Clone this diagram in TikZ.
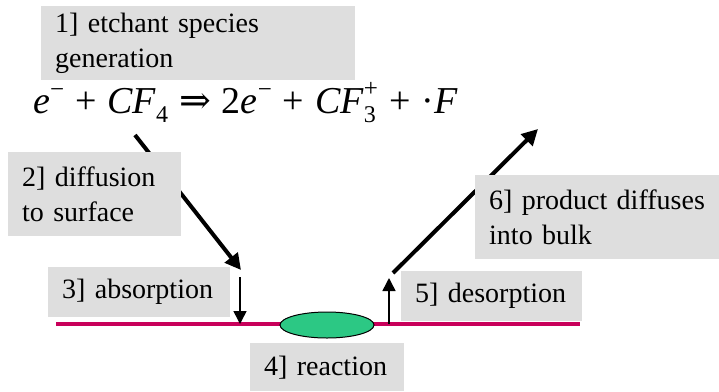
\documentclass[tikz,border=0pt]{standalone}
\usepackage{fontspec}
\setmainfont{Liberation Serif}
\newfontfamily\arrowfont{DejaVu Serif}
\usetikzlibrary{arrows.meta,shapes.geometric}
\definecolor{boxgray}{HTML}{DEDEDE}
\definecolor{surf}{HTML}{C8005A}
\definecolor{blob}{HTML}{2CC884}
\newcommand{\equp}[2]{\raisebox{#1}{\fontsize{25}{25}\selectfont #2}}
\newcommand{\eqdn}[1]{\raisebox{-9pt}{\fontsize{24}{24}\selectfont #1}}
\newcommand{\eqsp}{\hspace{11pt}}
\begin{document}
\begin{tikzpicture}[x=1pt,y=-1pt,
  lbl/.style={fill=boxgray, draw=none, anchor=north west, inner xsep=14pt, inner ysep=0pt, align=left, font=\fontsize{28}{35}\selectfont},
  bigarrow/.style={line width=4pt, -{Triangle[length=16pt,width=16pt]}},
  smallarrow/.style={line width=1.5pt, -{Triangle[length=13pt,width=13pt]}}]
\useasboundingbox (0,0) rectangle (719,391);
% surface and reaction site
\coordinate (sl) at (56,324);
\coordinate (sr) at (580,324);
\draw[surf, line width=4pt] (sl) -- (sr);
\node[ellipse, draw, fill=blob, line width=1pt, minimum width=94pt, minimum height=26pt, inner sep=0pt] (rx) at (327,325) {};
% equation
\node[anchor=base west, inner sep=0pt, font=\fontsize{38}{40}\selectfont] (eq) at (33,113)
  {{\itshape e}\equp{16pt}{−}\eqsp+\eqsp{\itshape CF}\eqdn{4}\eqsp{\arrowfont ⇒}\eqsp2{\itshape e}\equp{16pt}{−}\eqsp+\eqsp{\itshape CF}\rlap{\eqdn{3}}\equp{17pt}{+}\eqsp+\eqsp·{\itshape F}};
% arrows
\coordinate (d1s) at (135,135);
\coordinate (d1e) at (241,270);
\draw[bigarrow] (d1s) -- (d1e);
\coordinate (abs1) at (240,277);
\coordinate (abs2) at (240,324);
\draw[smallarrow] (abs1) -- (abs2);
\coordinate (des1) at (389,324);
\coordinate (des2) at (389,278);
\draw[smallarrow] (des1) -- (des2);
\coordinate (p1) at (393,273);
\coordinate (p2) at (538,129);
\draw[bigarrow] (p1) -- (p2);
% labels
\node[lbl, minimum width=314pt, minimum height=74pt, text width=286pt] (b1) at (41,6) {1] etchant species\\generation};
\node[lbl, minimum width=173pt, minimum height=84pt, text width=145pt] (b2) at (8,152) {2] diffusion\\to surface};
\node[lbl, minimum width=182pt, minimum height=50pt, text width=154pt] (b3) at (48,267) {3] absorption};
\node[lbl, minimum width=154pt, minimum height=48pt, text width=126pt] (b4) at (250,343) {4] reaction};
\node[lbl, minimum width=181pt, minimum height=50pt, text width=153pt] (b5) at (401,271) {5] desorption};
\node[lbl, minimum width=244pt, minimum height=84pt, text width=216pt] (b6) at (475,175) {6] product diffuses\\into bulk};
\end{tikzpicture}
\end{document}
